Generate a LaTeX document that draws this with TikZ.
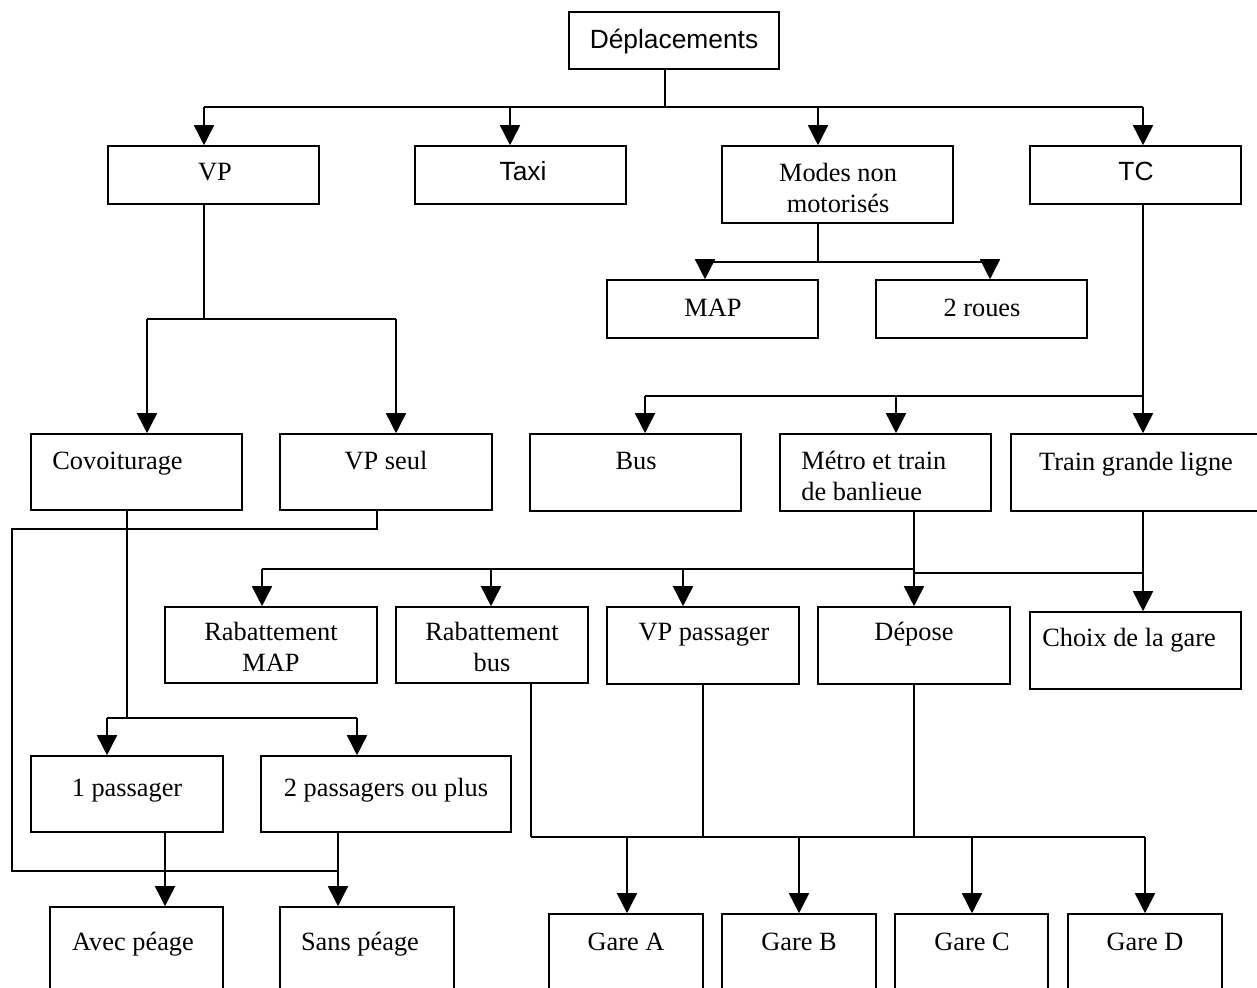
\documentclass[tikz,border=0pt]{standalone}
\usepackage{fontspec}
\setmainfont{Liberation Serif}
\setsansfont{Liberation Sans}
\usetikzlibrary{arrows.meta,fit}
\tikzset{
  box/.style={draw, inner sep=0pt, line width=0.9pt},
  lbltwo/.style={inner sep=0pt, align=center, font=\fontsize{15}{17.6}\selectfont},
  lbl/.style={lbltwo, text height=9.9pt, text depth=0pt},
  slbl/.style={lbl, font=\fontsize{15}{17.6}\selectfont\sffamily},
  wire/.style={line width=0.9pt},
  arr/.style={wire, -{Triangle[length=0.4cm,width=0.4cm]}},
}
\begin{document}
\begin{tikzpicture}[x=0.02cm,y=-0.02cm]
  \clip (0,0) rectangle (1257,987);
  \fill[white] (0,0) rectangle (1257,987);
  % boxes
  \node[box, fit={(569,12) (779,69)}] (dep) {};
  \node[box, fit={(108,146) (319,204)}] (vp) {};
  \node[box, fit={(415,146) (626,204)}] (taxi) {};
  \node[box, fit={(722,146) (953,223)}] (mnm) {};
  \node[box, fit={(1030,146) (1241,204)}] (tc) {};
  \node[box, fit={(607,280) (818,338)}] (map) {};
  \node[box, fit={(876,280) (1087,338)}] (roues) {};
  \node[box, fit={(31,434) (242,510)}] (covoit) {};
  \node[box, fit={(280,434) (492,510)}] (vpseul) {};
  \node[box, fit={(530,434) (741,511)}] (bus) {};
  \node[box, fit={(780,434) (991,511)}] (metro) {};
  \node[box, fit={(1011,434) (1262,511)}] (tgl) {};
  \node[box, fit={(165,607) (377,683)}] (rabmap) {};
  \node[box, fit={(396,607) (588,683)}] (rabbus) {};
  \node[box, fit={(607,607) (799,684)}] (vppass) {};
  \node[box, fit={(818,607) (1010,684)}] (depose) {};
  \node[box, fit={(1030,612) (1241,689)}] (choix) {};
  \node[box, fit={(31,756) (223,832)}] (pass1) {};
  \node[box, fit={(261,756) (511,832)}] (pass2) {};
  \node[box, fit={(50,907) (223,1000)}] (avec) {};
  \node[box, fit={(280,907) (454,1000)}] (sans) {};
  \node[box, fit={(549,914) (703,1000)}] (garea) {};
  \node[box, fit={(722,914) (876,1000)}] (gareb) {};
  \node[box, fit={(895,914) (1048,1000)}] (garec) {};
  \node[box, fit={(1068,914) (1222,1000)}] (gared) {};
  % texts
  \node[slbl] (dep-t) at (674,40) {Déplacements};
  \node[lbl] (vp-t) at (215,172) {VP};
  \node[slbl] (taxi-t) at (523,172) {Taxi};
  \node[lbltwo] (mnm-t) at (838,188) {Modes non\\motorisés};
  \node[slbl] (tc-t) at (1136,172) {TC};
  \node[lbl] (map-t) at (713,308) {MAP};
  \node[lbl] (roues-t) at (982,308) {2 roues};
  \node[lbl, anchor=west] (covoit-t) at (52,461) {Covoiturage};
  \node[lbl] (vpseul-t) at (386,461) {VP seul};
  \node[lbl] (bus-t) at (636,461) {Bus};
  \node[lbltwo, anchor=west, align=left] (metro-t) at (801,476) {Métro et train\\de banlieue};
  \node[lbl] (tgl-t) at (1136,462) {Train grande ligne};
  \node[lbltwo] (rabmap-t) at (271,647) {Rabattement\\MAP};
  \node[lbltwo] (rabbus-t) at (492,647) {Rabattement\\bus};
  \node[lbl] (vppass-t) at (704,632) {VP passager};
  \node[lbl] (depose-t) at (914,632) {Dépose};
  \node[lbl] (choix-t) at (1129,638) {Choix de la gare};
  \node[lbl] (pass1-t) at (127,788) {1 passager};
  \node[lbl] (pass2-t) at (386,788) {2 passagers ou plus};
  \node[lbl] (avec-t) at (133,942) {Avec péage};
  \node[lbl] (sans-t) at (360,942) {Sans péage};
  \node[lbl] (garea-t) at (626,942) {Gare A};
  \node[lbl] (gareb-t) at (799,942) {Gare B};
  \node[lbl] (garec-t) at (972,942) {Gare C};
  \node[lbl] (gared-t) at (1145,942) {Gare D};
  % Deplacements -> modes
  \coordinate (dep-j) at (665,107);
  \draw[wire] (dep-j |- dep.south) -- (dep-j);
  \draw[wire] (204,0 |- dep-j) -- (1143,0 |- dep-j);
  \foreach \n/\x in {vp/204,taxi/510,mnm/818,tc/1143}
    \draw[arr] (\x,0 |- dep-j) -- (\x,0 |- \n.north);
  % modes non motorises
  \coordinate (mnm-j) at (818,262);
  \draw[wire] (mnm-j |- mnm.south) -- (mnm-j);
  \draw[wire] (705,0 |- mnm-j) -- (990,0 |- mnm-j);
  \foreach \n/\x in {map/705,roues/990}
    \draw[arr] (\x,0 |- mnm-j) -- (\x,0 |- \n.north);
  % VP
  \coordinate (vp-j) at (204,319);
  \draw[wire] (vp-j |- vp.south) -- (vp-j);
  \draw[wire] (147,0 |- vp-j) -- (396,0 |- vp-j);
  \foreach \n/\x in {covoit/147,vpseul/396}
    \draw[arr] (\x,0 |- vp-j) -- (\x,0 |- \n.north);
  % TC
  \coordinate (tc-j) at (1143,396);
  \draw[wire] (tc-j |- tc.south) -- (tc-j);
  \draw[wire] (645,0 |- tc-j) -- (tc-j);
  \foreach \n/\x in {bus/645,metro/896,tgl/1143}
    \draw[arr] (\x,0 |- tc-j) -- (\x,0 |- \n.north);
  % metro et train grande ligne
  \coordinate (met-j) at (914,569);
  \draw[wire] (met-j |- metro.south) -- (met-j);
  \draw[arr] (met-j) -- (met-j |- depose.north);
  \draw[wire] (262,0 |- met-j) -- (met-j);
  \foreach \n/\x in {rabmap/262,rabbus/491,vppass/683}
    \draw[arr] (\x,0 |- met-j) -- (\x,0 |- \n.north);
  \coordinate (tgl-j) at (1143,573);
  \draw[wire] (914,0 |- tgl-j) -- (tgl-j);
  \draw[arr] (tgl-j |- tgl.south) -- (tgl-j |- choix.north);
  % covoiturage
  \coordinate (cov-j) at (127,718);
  \draw[wire] (cov-j |- covoit.south) -- (cov-j);
  \draw[wire] (107,0 |- cov-j) -- (357,0 |- cov-j);
  \foreach \n/\x in {pass1/107,pass2/357}
    \draw[arr] (\x,0 |- cov-j) -- (\x,0 |- \n.north);
  % VP seul
  \coordinate (loop-l) at (12,529);
  \coordinate (loop-r) at (338,871);
  \draw[wire] (377,0 |- vpseul.south) |- (loop-l) |- (loop-r);
  \draw[arr] (165,0 |- pass1.south) -- (165,0 |- avec.north);
  \draw[arr] (338,0 |- pass2.south) -- (338,0 |- sans.north);
  % gares
  \coordinate (gare-j) at (531,837);
  \draw[wire] (gare-j |- rabbus.south) -- (gare-j);
  \draw[wire] (703,0 |- vppass.south) -- (703,0 |- gare-j);
  \draw[wire] (914,0 |- depose.south) -- (914,0 |- gare-j);
  \draw[wire] (gare-j) -- (1145,0 |- gare-j);
  \foreach \n/\x in {garea/627,gareb/799,garec/972,gared/1145}
    \draw[arr] (\x,0 |- gare-j) -- (\x,0 |- \n.north);
\end{tikzpicture}
\end{document}
